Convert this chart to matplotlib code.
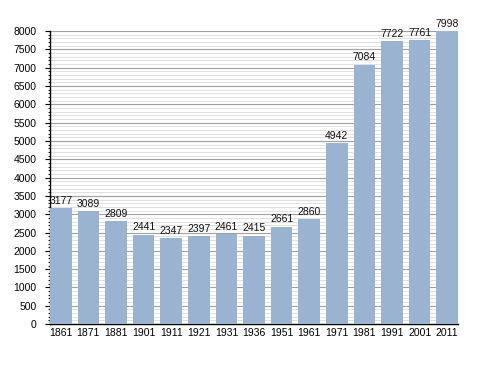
import numpy as np
import matplotlib.pyplot as plt
from matplotlib.ticker import MultipleLocator

years = ['1861', '1871', '1881', '1901', '1911', '1921', '1931', '1936',
         '1951', '1961', '1971', '1981', '1991', '2001', '2011']
population = [3177, 3089, 2809, 2441, 2347, 2397, 2461, 2415,
              2661, 2860, 4942, 7084, 7722, 7761, 7998]

plt.rcParams['font.family'] = ['Liberation Sans', 'DejaVu Sans']

fig = plt.figure(figsize=(4.88, 3.73), dpi=100)
ax = fig.add_axes([0.1025, 0.131, 0.836, 0.786])

x = np.arange(len(years))
bar_width = 0.78
ax.bar(x, population, width=bar_width, color='#9ab3d0', zorder=3)

# value labels above the bars
for xi, v in zip(x, population):
    ax.text(xi, v + 60, str(v), ha='center', va='bottom', fontsize=7.5, color='#111111', zorder=4)

ax.set_xlim(-bar_width / 2, len(years) - 1 + bar_width / 2)
ax.set_ylim(0, 8000)
ax.set_xticks(x)
ax.set_xticklabels(years, fontsize=7.5)
ax.yaxis.set_major_locator(MultipleLocator(500))
ax.yaxis.set_minor_locator(MultipleLocator(100))
ax.tick_params(axis='y', labelsize=7.5, length=3.6, width=0.8, pad=6)
ax.tick_params(axis='y', which='minor', length=1.8, width=0.6)
ax.tick_params(axis='x', length=0, pad=3)

ax.grid(axis='y', which='major', color='#a0a0a0', linewidth=0.8, zorder=1)
ax.grid(axis='y', which='minor', color='#dcdcdc', linewidth=0.6, zorder=0)

ax.spines['top'].set_visible(False)
ax.spines['right'].set_visible(False)
ax.spines['left'].set_linewidth(1.0)
ax.spines['bottom'].set_linewidth(1.0)

fig.savefig('out.png', dpi=100)
